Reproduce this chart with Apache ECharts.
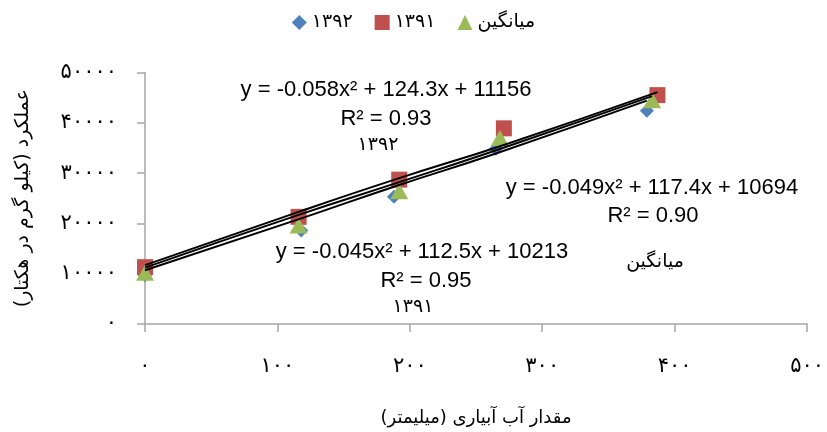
<!DOCTYPE html>
<html><head><meta charset="utf-8">
<script src="https://cdn.jsdelivr.net/npm/echarts@6/dist/echarts.min.js"></script>
<style>html,body{margin:0;padding:0;background:#fff}#c{width:827px;height:432px}</style>
</head><body><div id="c"></div>
<script>
var names = ['۱۳۹۲', '۱۳۹۱', 'میانگین'];
var x1392 = [0, 118, 188, 265, 379];
var y1392 = [9700, 18600, 25300, 34850, 42400];
var x1391 = [0, 116, 192, 271, 387];
var y1391 = [11300, 21300, 28700, 38900, 45500];
var xAvg = [0, 116, 192, 268, 383];
var yAvg = [10200, 19600, 26400, 37000, 44500];
var trend1392 = [10700, 21000, 27300, 33900, 44400];
var trend1391 = [11700, 22300, 29000, 35600, 46100];
var trendAvg = [11200, 21700, 28200, 34800, 45300];
var xTicks = [0, 100, 200, 300, 400, 500];
var yTicks = [0, 10000, 20000, 30000, 40000, 50000];
var eqTexts = [
  ['y = -0.058x² + 124.3x + 11156', 'R² = 0.93', '۱۳۹۲'],
  ['y = -0.049x² + 117.4x + 10694', 'R² = 0.90', 'میانگین'],
  ['y = -0.045x² + 112.5x + 10213', 'R² = 0.95', '۱۳۹۱']
];

function fa(v){ return String(v).replace(/[0-9]/g, function(d){ return '۰۱۲۳۴۵۶۷۸۹'[+d]; }); }
function pts(xs, ys){ return xs.map(function(x,i){ return [x, ys[i]]; }); }

var chart = echarts.init(document.getElementById('c'));
var fontLat = '"Liberation Sans", Arial, sans-serif';
var fontFa = '"DejaVu Sans", "Noto Sans", sans-serif';
var lineBase = function(xs, ys){
  return {type:'line', data: pts(xs, ys), smooth:true, symbol:'none', z:5, silent:true,
    lineStyle:{color:'#000', width:2}, tooltip:{show:false}};
};

var graphics = [];
var layout = [
  {y:90, gaps:[29, 26], cx:[386, 386, 378]},
  {y:188, gaps:[28, 46], cx:[652, 653, 655]},
  {y:252, gaps:[29, 26], cx:[422, 426, 413]}
];
layout.forEach(function(p, i){
  var y = p.y;
  eqTexts[i].forEach(function(t, j){
    var isFa = /[\u0600-\u06FF]/.test(t);
    graphics.push({type:'text', x:p.cx[j], y:y, z:10,
      style:{text:t, textAlign:'center', textVerticalAlign:'middle',
        font:(isFa ? '19px ' + fontFa : '22px ' + fontLat), fill:'#000'}});
    y += p.gaps[j] || 0;
  });
});

chart.setOption({
  animation:false,
  backgroundColor:'#fff',
  legend:{top:8, left:'center', itemGap:22, itemWidth:15, itemHeight:15,
    data:names, textStyle:{fontFamily:fontFa, fontSize:19, color:'#000'}},
  grid:{left:145, right:17, top:72.5, bottom:107},
  xAxis:{type:'value', min:0, max:500, interval:100,
    name:'مقدار آب آبیاری (میلیمتر)', nameLocation:'middle', nameGap:85,
    nameTextStyle:{fontFamily:fontFa, fontSize:18, color:'#000'},
    axisLine:{show:true, onZero:false, lineStyle:{color:'#A6A6A6', width:1.5}},
    axisTick:{show:true, length:8, lineStyle:{color:'#A6A6A6', width:1.5}},
    axisLabel:{margin:32, fontFamily:fontFa, fontSize:21, color:'#000', formatter:function(v){return fa(v);}},
    splitLine:{show:false}},
  yAxis:{type:'value', min:0, max:50000, interval:10000,
    name:'عملکرد (کیلو گرم در هکتار)', nameLocation:'middle', nameGap:112, nameRotate:90,
    nameTextStyle:{fontFamily:fontFa, fontSize:19, color:'#000'},
    axisLine:{show:true, lineStyle:{color:'#A6A6A6', width:1.5}},
    axisTick:{show:true, length:8, lineStyle:{color:'#A6A6A6', width:1.5}},
    axisLabel:{margin:28, fontFamily:fontFa, fontSize:21, color:'#000', formatter:function(v){return fa(v);}},
    splitLine:{show:false}},
  graphic: graphics,
  series:[
    {type:'scatter', name:names[0], data:pts(x1392, y1392), symbol:'diamond', symbolSize:14, z:2,
      itemStyle:{color:'#4F81BD', opacity:1}},
    {type:'scatter', name:names[1], data:pts(x1391, y1391), symbol:'rect', symbolSize:16, z:3,
      itemStyle:{color:'#C0504D', opacity:1}},
    {type:'scatter', name:names[2], data:pts(xAvg, yAvg), symbol:'triangle', symbolSize:[18,16], z:4,
      itemStyle:{color:'#9BBB59', opacity:1}},
    lineBase(x1391, trend1391),
    lineBase(xAvg, trendAvg),
    lineBase(x1392, trend1392)
  ]
});
</script></body></html>
